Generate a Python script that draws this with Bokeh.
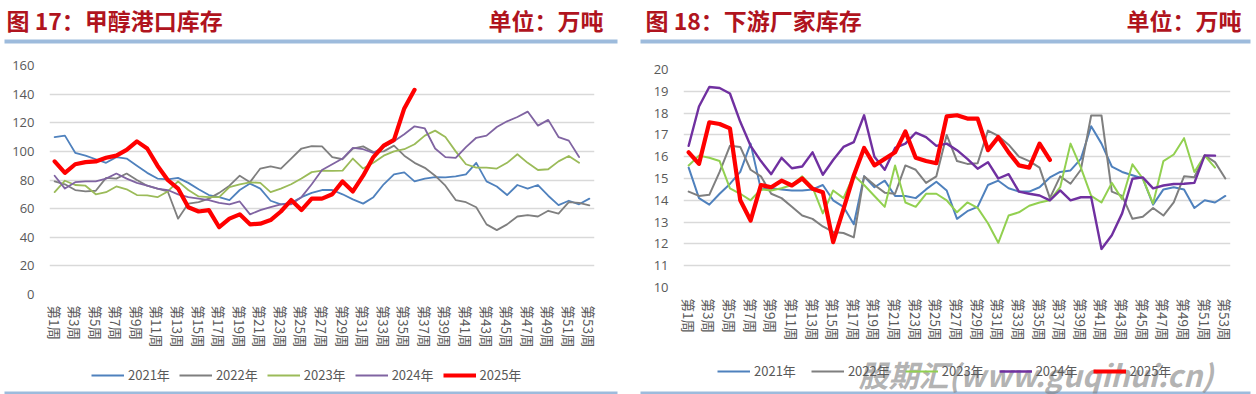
from bokeh.plotting import figure
from bokeh.models import Range1d, FixedTicker, SingleIntervalTicker, Legend, LegendItem
from bokeh.layouts import row, column
from bokeh.embed import file_html
from bokeh.resources import INLINE
from bokeh.core.properties import value

# ---------------- data ----------------
week_no = list(range(1, 54))
weeks = [f"第{i}周" for i in week_no]
years = ["2021年", "2022年", "2023年", "2024年", "2025年"]

# 图17 甲醇港口库存 (万吨)
port_2021 = [110, 111, 99, 97, 94.5, 92, 96, 95, 90, 85, 81, 80.5, 81.5, 78, 73.5, 69.5, 68, 66, 73, 77.5,
             74, 65.5, 63, 64, 68, 71, 73, 73, 70, 66.5, 63.5, 68, 77, 84, 85.3, 79, 81, 82, 81.8, 82.5,
             84, 92, 79, 75.5, 69.5, 76.5, 74, 76.5, 69, 62.5, 65.5, 63, 67]
port_2022 = [79, 77, 73, 72, 72.5, 81.5, 81, 84.5, 80, 76, 74, 72, 53, 63.5, 64.5, 67, 71, 76, 83, 78.5,
             88, 89.5, 88, 95, 102, 103.7, 103.5, 96, 94.5, 102, 103.5, 99.5, 100, 104, 97, 92, 88.5, 83, 76, 66,
             64.5, 61, 49, 45, 49, 54.5, 55.5, 54.5, 58.5, 56.5, 64.5, 64, 62.3]
port_2023 = [71.5, 79.5, 76.5, 76, 70, 71.5, 75.5, 73.5, 69.5, 69.2, 68, 72, 79, 73, 68.5, 68, 68, 75, 77, 78.4,
             78, 71.5, 74, 77, 81, 85.5, 86.5, 86.4, 86.5, 95, 88, 92, 97, 100, 101.5, 105, 111, 114.5, 110, 100,
             91, 88.7, 88.7, 88, 92, 98, 92, 87, 87.5, 93, 96.8, 92]
port_2024 = [83, 74, 78.5, 79, 79, 81, 84.5, 81, 78, 76, 74, 73, 70, 68, 67, 66, 64, 63, 65, 56,
             59, 61, 63, 63, 68, 77, 87, 91, 95, 102.5, 101.5, 99, 103, 107, 112, 117.5, 116, 102, 96, 95.5,
             103, 109.5, 111, 117, 121, 124, 127.8, 118, 122, 110, 107.5, 96]
port_2025 = [93, 85, 91, 92.5, 93, 95.5, 97, 101, 107, 102, 90, 80, 74, 61, 58, 59, 47, 53, 56, 49,
             49.5, 52, 58, 66, 59, 67, 67, 70, 79, 72, 83, 96, 104, 108, 130, 143]

# 图18 下游厂家库存 (万吨)
plant_2021 = [15.5, 14.1, 13.8, 14.3, 14.75, 15.3, 16.6, 14.5, 14.55, 14.5, 14.45, 14.45, 14.5, 14.7, 14.0,
              13.7, 12.9, 15.1, 14.6, 14.9, 14.2, 14.2, 14.1, 14.5, 14.85, 14.45, 13.15, 13.5, 13.7, 14.7,
              14.9, 14.55, 14.4, 14.4, 14.6, 15.05, 15.3, 15.37, 15.9, 17.4, 16.6, 15.55, 15.3, 15.15, 15.0,
              13.8, 14.5, 14.6, 14.5, 13.65, 14.0, 13.9, 14.2]
plant_2022 = [14.4, 14.2, 14.25, 15.3, 16.5, 16.45, 15.4, 15.1, 14.3, 14.1, 13.7, 13.3, 13.15, 12.8, 12.55,
              12.5, 12.3, 15.1, 14.7, 14.35, 14.3, 15.6, 15.4, 14.8, 15.1, 17.0, 15.8, 15.67, 15.7, 17.2,
              16.95, 16.55, 16.0, 15.8, 15.5, 14.1, 15.1, 14.76, 15.4, 17.89, 17.89, 14.4, 14.2, 13.15, 13.25,
              13.65, 13.3, 13.9, 15.1, 15.06, 16.06, 15.75, 15.0]
plant_2023 = [15.6, 16.05, 15.95, 15.8, 14.55, 14.3, 14.0, 14.5, 14.45, 14.55, 14.7, 15.1, 14.6, 13.4, 14.45,
              14.1, 15.15, 14.7, 14.2, 13.7, 15.6, 13.9, 13.7, 14.3, 14.3, 14.0, 13.45, 13.9, 13.65, 12.95,
              12.05, 13.3, 13.45, 13.75, 13.9, 14.0, 14.6, 16.6, 15.5, 14.2, 13.9, 14.8, 14.05, 15.65, 15.0,
              13.85, 15.8, 16.1, 16.85, 15.3, 16.05, 15.5]
plant_2024 = [16.5, 18.3, 19.2, 19.15, 18.9, 17.6, 16.5, 15.8, 15.2, 15.95, 15.47, 15.55, 16.2, 15.17, 15.85,
              16.45, 16.67, 17.9, 16.0, 15.4, 16.4, 16.6, 17.1, 16.9, 16.5, 16.6, 16.3, 15.9, 15.45, 15.75,
              15.0, 15.2, 14.4, 14.3, 14.22, 14.0, 14.45, 14.0, 14.14, 14.14, 11.77, 12.4, 13.4, 14.99, 15.05,
              14.55, 14.68, 14.75, 14.76, 14.8, 16.06, 16.05]
plant_2025 = [16.2, 15.67, 17.58, 17.5, 17.3, 14.0, 13.07, 14.7, 14.6, 14.9, 14.68, 15.0, 14.53, 14.37, 12.08,
              13.6, 15.14, 16.4, 15.6, 15.9, 16.2, 17.16, 15.95, 15.8, 15.7, 17.85, 17.9, 17.75, 17.75, 16.3,
              16.9, 16.2, 15.6, 15.5, 16.6, 15.85]

# ---------------- style / layout ----------------
PANEL_W = 628
HEADER_H = 46
CHART_H = 304
FOOTER_H = 44
TITLE_RED = "#B0141E"
RULE_BLUE = "#9DBBDC"
LABEL_GRAY = "#595959"
GRID = "#D9D9D9"
CJK = "Noto Sans CJK SC"
NUM = "Open Sans"


def no_align(fig):
    if "frame_align" in fig.properties():
        fig.frame_align = False
    return fig


def blank(height):
    f = figure(width=PANEL_W, height=height, x_range=Range1d(0, PANEL_W), y_range=Range1d(height, 0),
               min_border=0, toolbar_location=None, output_backend="svg",
               x_axis_location=None, y_axis_location=None, outline_line_color=None)
    f.grid.visible = False
    return no_align(f)


def header(title, unit, title_x, unit_x, rule_x0, rule_x1):
    h = blank(HEADER_H)
    h.text(x=[title_x], y=[19], text=[title], text_font=value(CJK), text_font_style="bold",
           text_font_size="23px", text_color=TITLE_RED, text_baseline="middle", text_align="left")
    h.text(x=[unit_x], y=[19], text=[unit], text_font=value(CJK), text_font_style="bold",
           text_font_size="23px", text_color=TITLE_RED, text_baseline="middle", text_align="right")
    h.quad(left=[rule_x0], right=[rule_x1], top=[39], bottom=[43], fill_color=RULE_BLUE, line_color=None)
    return h


def footer(colors, widths, legend_loc, spacing, rule_x0, rule_x1, watermark=None):
    f = blank(FOOTER_H)
    items = []
    for name, c, w in zip(years, colors, widths):
        # legend swatch carrier only (kept outside the visible range)
        r = f.line(x=[-100, -90], y=[-100, -100], line_color=c, line_width=w)
        items.append(LegendItem(label=name, renderers=[r]))
    lg = Legend(items=items, orientation="horizontal", location=legend_loc, glyph_width=33, glyph_height=16,
                label_height=16, label_standoff=4, spacing=spacing, padding=0, margin=0,
                background_fill_alpha=0, border_line_color=None,
                label_text_font=CJK, label_text_font_size="13px", label_text_color=LABEL_GRAY)
    f.add_layout(lg)
    f.quad(left=[rule_x0], right=[rule_x1], top=[41], bottom=[44], fill_color=RULE_BLUE, line_color=None)
    if watermark:
        f.text(x=[230], y=[23], text=[watermark], text_font=value(CJK), text_font_style="bold italic",
               text_font_size="30px", text_color="#808080", text_alpha=0.6, text_baseline="middle",
               text_align="left")
    return f


def chart(series, colors, widths, y0, y1, step, mb):
    left, right, top, bottom = mb
    p = figure(width=PANEL_W, height=CHART_H, x_range=Range1d(0.5, 53.5), y_range=Range1d(y0, y1),
               min_border_left=left, min_border_right=right, min_border_top=top, min_border_bottom=bottom,
               toolbar_location=None, output_backend="svg", outline_line_color=None)
    no_align(p)
    p.xgrid.visible = False
    p.ygrid.grid_line_color = GRID
    p.ygrid.grid_line_width = 1.3
    p.yaxis.ticker = SingleIntervalTicker(interval=step)
    p.yaxis.axis_line_color = None
    p.yaxis.major_tick_line_color = None
    p.yaxis.minor_tick_line_color = None
    p.yaxis.major_label_text_font = NUM
    p.yaxis.major_label_text_font_size = "13px"
    p.yaxis.major_label_text_color = LABEL_GRAY
    p.yaxis.major_label_standoff = 9
    p.xaxis.ticker = FixedTicker(ticks=week_no[::2])
    p.xaxis.major_label_overrides = {w: lab for w, lab in zip(week_no, weeks)}
    p.xaxis.major_label_orientation = "vertical"
    p.xaxis.axis_line_color = None
    p.xaxis.major_tick_line_color = None
    p.xaxis.minor_tick_line_color = None
    p.xaxis.major_label_text_font = CJK
    p.xaxis.major_label_text_font_size = "13.5px"
    p.xaxis.major_label_text_color = LABEL_GRAY
    p.xaxis.major_label_standoff = 5
    for s, c, w in zip(series, colors, widths):
        p.line(x=week_no[:len(s)], y=s, line_color=c, line_width=w, line_join="round", line_cap="round")
    return p


L_COLORS = ["#4F81BD", "#7F7F7F", "#9BBB59", "#8064A2", "#FF0000"]
L_WIDTHS = [1.8, 1.8, 1.8, 1.8, 4.2]
R_COLORS = ["#4F81BD", "#7F7F7F", "#92D050", "#7030A0", "#FF0000"]
R_WIDTHS = [2, 2, 2, 2.4, 4.2]

left_chart = chart([port_2021, port_2022, port_2023, port_2024, port_2025], L_COLORS, L_WIDTHS,
                   0, 160, 20, (49, 34, 19, 53))
right_chart = chart([plant_2021, plant_2022, plant_2023, plant_2024, plant_2025], R_COLORS, R_WIDTHS,
                    10, 20, 1, (55, 26, 23, 63))

left_panel = column(header("图  17：甲醇港口库存", "单位：万吨", 6, 603, 4, 617),
                    left_chart,
                    footer(L_COLORS, L_WIDTHS, (91, 10), 9, 4, 617))
right_panel = column(header("图  18：下游厂家库存", "单位：万吨", 17, 613, 12, 622),
                     right_chart,
                     footer(R_COLORS, R_WIDTHS, (89, 14), 15, 12, 622, watermark="股期汇(www.guqihui.cn)"))
layout = row(left_panel, right_panel)

open("out.html", "w").write(file_html(layout, INLINE))
